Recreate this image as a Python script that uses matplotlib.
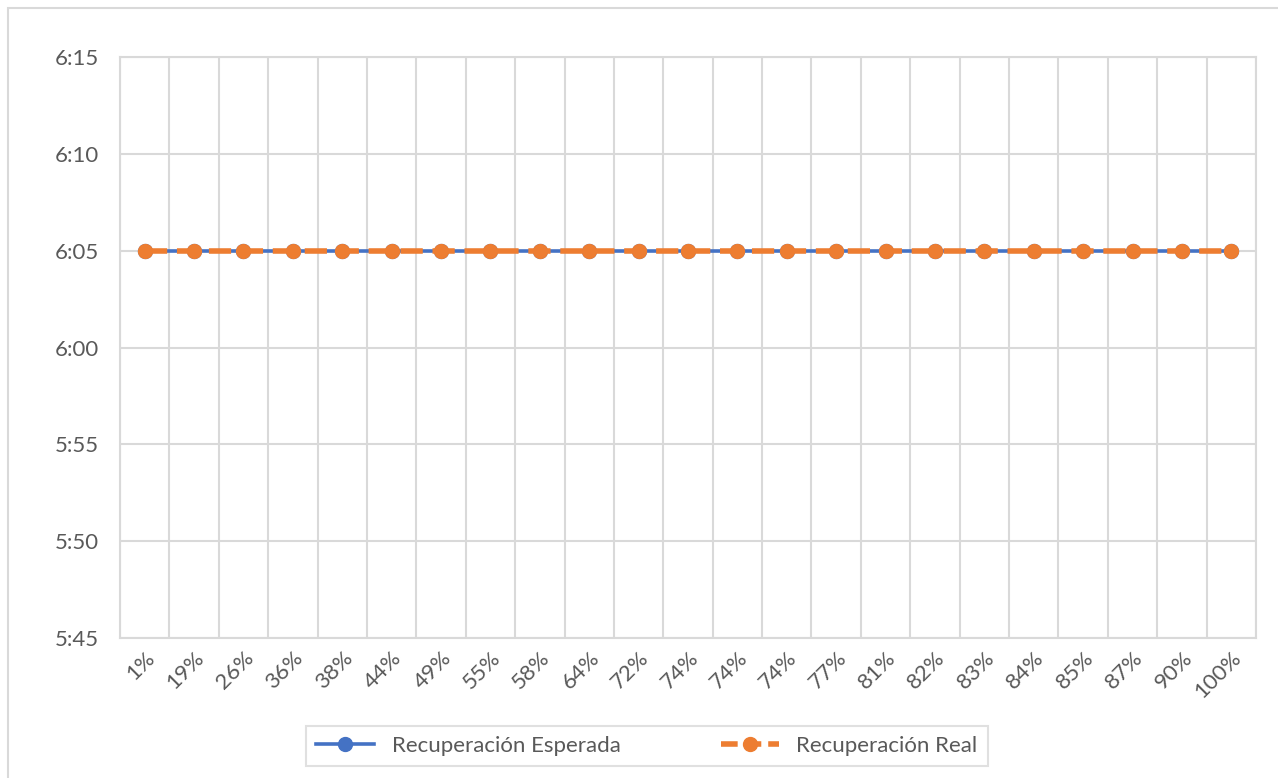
#!/usr/bin/env python3
# plot.py -- recuperacion esperada vs real, Excel-style line chart
import numpy as np
import matplotlib
matplotlib.use("Agg")
import matplotlib.pyplot as plt
from matplotlib.ticker import FuncFormatter, FixedLocator
from matplotlib.patches import Rectangle

# category labels along x (percent recovered)
labels = ["1%", "19%", "26%", "36%", "38%", "44%", "49%", "55%", "58%",
          "64%", "72%", "74%", "74%", "74%", "77%", "81%", "82%", "83%",
          "84%", "85%", "87%", "90%", "100%"]
# values in minutes since midnight (6:05 -> 365)
esperada = [365] * 23
real = [365] * 23
yticks = [345, 350, 355, 360, 365, 370, 375]

BLUE = "#4472C4"
ORANGE = "#ED7D31"
GRID = "#D9D9D9"
TXT = "#595959"

plt.rcParams["font.family"] = ["Lato", "DejaVu Sans"]
plt.rcParams["lines.scale_dashes"] = False


def hm(v, pos=None):
    v = int(round(v))
    return "%d:%02d" % (v // 60, v % 60)


fig = plt.figure(figsize=(12.78, 7.78), dpi=100)
# outer chart-area border
fig.patches.append(Rectangle((8 / 1278, -0.01), 1.5, 1 - 8 / 778 + 0.01,
                             transform=fig.transFigure, fill=False,
                             edgecolor=GRID, linewidth=1.5))
ax = fig.add_axes([120 / 1278, 1 - 638 / 778, (1256 - 120) / 1278,
                   (638 - 57) / 778])

x = np.arange(len(labels))
ax.plot(x, esperada, "-o", color=BLUE, linewidth=2.6, markersize=10,
        label="Recuperación Esperada", zorder=3)
ax.plot(x, real, color=ORANGE, linewidth=4, dashes=(16, 7), marker="o",
        markersize=10, label="Recuperación Real", zorder=4)

ax.set_xlim(-0.5, len(labels) - 0.5)
ax.set_ylim(345, 375)
ax.set_yticks(yticks)
ax.yaxis.set_major_formatter(FuncFormatter(hm))
ax.set_xticks(x)
ax.set_xticklabels(labels, rotation=45, ha="right", rotation_mode="anchor")
ax.xaxis.set_minor_locator(FixedLocator(np.arange(-0.5, len(labels), 1.0)))
ax.grid(True, axis="y", color=GRID, linewidth=1.5)
ax.grid(True, axis="x", which="minor", color=GRID, linewidth=1.5)
ax.set_axisbelow(True)
ax.tick_params(axis="both", which="both", length=0, labelsize=16,
               labelcolor=TXT)
ax.tick_params(axis="y", pad=15)
ax.tick_params(axis="x", pad=7)
for s in ax.spines.values():
    s.set_color(GRID)
    s.set_linewidth(1.5)

leg = fig.legend(loc="center", bbox_to_anchor=(647 / 1278, 1 - 746 / 778),
                 ncol=2, frameon=True, fancybox=False, fontsize=16,
                 handlelength=2.6, columnspacing=4.5, borderpad=0.45,
                 labelcolor=TXT)
leg.get_frame().set_edgecolor(GRID)
leg.get_frame().set_linewidth(1.5)
leg.get_lines()[1].set_dashes((12, 5))

fig.savefig("out.png", dpi=100)
